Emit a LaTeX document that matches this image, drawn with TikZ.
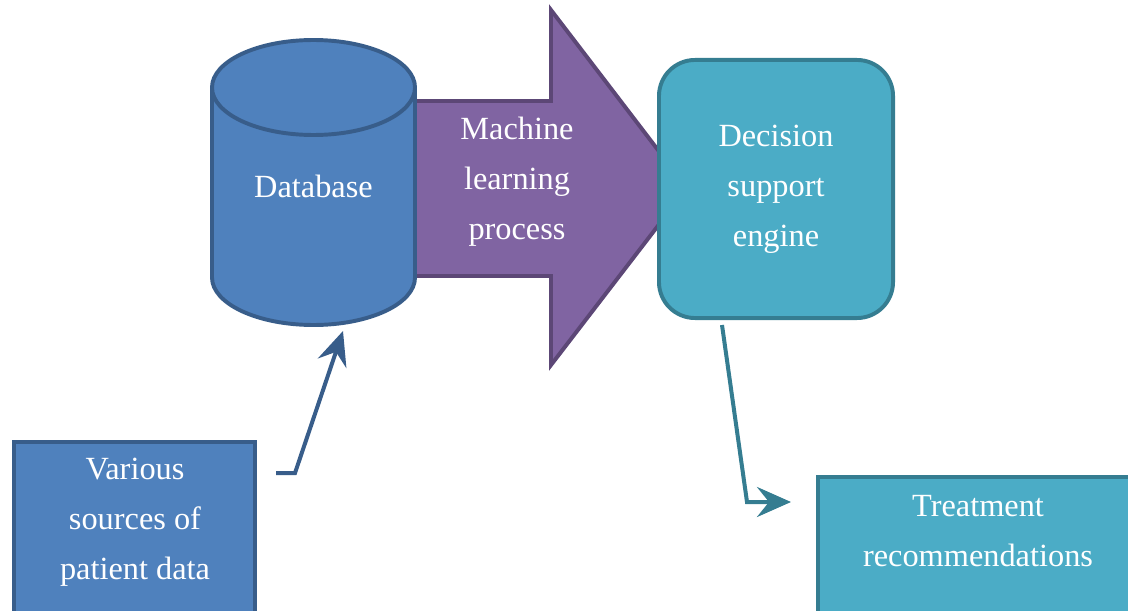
\documentclass[tikz,border=0pt]{standalone}
\usepackage{fontspec}
\setmainfont{Liberation Serif}
\usetikzlibrary{arrows.meta}

\definecolor{dbfill}{HTML}{4F81BD}
\definecolor{dbline}{HTML}{385D8A}
\definecolor{mlfill}{HTML}{8064A2}
\definecolor{mlline}{HTML}{5C4776}
\definecolor{dsfill}{HTML}{4BACC6}
\definecolor{dsline}{HTML}{357D91}

\tikzset{
	txt/.style={text=white, align=center, font=\fontsize{23}{35.5}\selectfont},
	dbshape/.style={fill=dbfill, draw=dbline, line width=2.8pt},
	dsbox/.style={txt, rectangle, rounded corners=0.9cm, fill=dsfill, draw=dsline, line width=2.8pt},
	srcbox/.style={rectangle, fill=dbfill, draw=dbline, line width=2.8pt},
	recbox/.style={rectangle, fill=dsfill, draw=dsline, line width=2.8pt},
	link/.style={line width=0.1cm, -{Stealth[length=0.85cm, width=0.75cm, inset=0.3cm]}}
}

\begin{document}
\begin{tikzpicture}[x=0.025cm, y=-0.025cm]
	\useasboundingbox (0,0) rectangle (1128,610);
	\clip (0,0) rectangle (1128,610);

	% machine learning arrow
	\filldraw[fill=mlfill, draw=mlline, line width=2.8pt] (400,101) -- (551,101) -- (551,10) -- (687,188) -- (551,365) -- (551,276) -- (400,276) -- cycle;
	\node[txt] (ml) at (517,182) {Machine\\learning\\process};

	% database
	\filldraw[dbshape] (212,87.5) -- (212,277.5) arc[start angle=180, end angle=0, x radius=101.5, y radius=47.5] -- (415,87.5);
	\filldraw[dbshape] (313.5,87.5) ellipse [x radius=101.5, y radius=47.5];
	\node[txt] (db) at (313.5,186) {Database};

	% decision support engine
	\node[dsbox, minimum width=5.85cm, minimum height=6.45cm] (ds) at (776,189) {Decision\\support\\engine};

	% sources and recommendations
	\node[srcbox, minimum width=6.025cm, minimum height=4.45cm] (src) at (134.5,531) {};
	\node[txt] (srctxt) at (135,522) {Various\\sources of\\patient data};
	\node[recbox, minimum width=9.1cm, minimum height=4.15cm] (rec) at (1000,560) {};
	\node[txt] (rectxt) at (978,531) {Treatment\\recommendations};

	\coordinate (srcout) at (276,473);
	\coordinate (srcbend) at (295,473);
	\coordinate (dbin) at (343,331);
	\coordinate (dsout) at (722,325);
	\coordinate (recbend) at (747,502);
	\coordinate (recin) at (791,502);

	\draw[link, dbline] (srcout) -- (srcbend) -- (dbin);
	\draw[link, dsline] (dsout) -- (recbend) -- (recin);
\end{tikzpicture}
\end{document}
